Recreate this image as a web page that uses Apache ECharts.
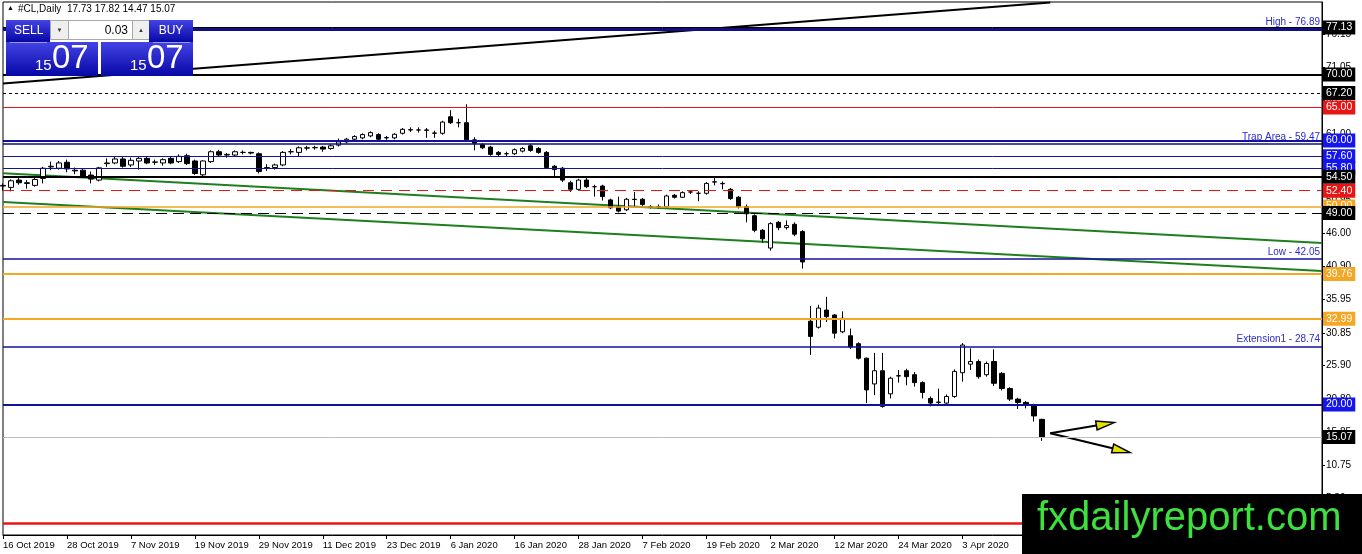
<!DOCTYPE html>
<html><head><meta charset="utf-8">
<script src="https://cdn.jsdelivr.net/npm/echarts@6/dist/echarts.min.js"></script>
<style>html,body{margin:0;padding:0;background:#fff;overflow:hidden}#c{width:1362px;height:554px}</style>
</head><body><div id="c"></div>
<script>
// ---------- DATA ----------
const dates = ['16 Oct 2019','17 Oct 2019','18 Oct 2019','21 Oct 2019','22 Oct 2019','23 Oct 2019','24 Oct 2019','25 Oct 2019',
'28 Oct 2019','29 Oct 2019','30 Oct 2019','31 Oct 2019','1 Nov 2019','4 Nov 2019','5 Nov 2019','6 Nov 2019',
'7 Nov 2019','8 Nov 2019','11 Nov 2019','12 Nov 2019','13 Nov 2019','14 Nov 2019','15 Nov 2019','18 Nov 2019',
'19 Nov 2019','20 Nov 2019','21 Nov 2019','22 Nov 2019','25 Nov 2019','26 Nov 2019','27 Nov 2019','28 Nov 2019',
'29 Nov 2019','2 Dec 2019','3 Dec 2019','4 Dec 2019','5 Dec 2019','6 Dec 2019','9 Dec 2019','10 Dec 2019',
'11 Dec 2019','12 Dec 2019','13 Dec 2019','16 Dec 2019','17 Dec 2019','18 Dec 2019','19 Dec 2019','20 Dec 2019',
'23 Dec 2019','24 Dec 2019','26 Dec 2019','27 Dec 2019','30 Dec 2019','31 Dec 2019','2 Jan 2020','3 Jan 2020',
'6 Jan 2020','7 Jan 2020','8 Jan 2020','9 Jan 2020','10 Jan 2020','13 Jan 2020','14 Jan 2020','15 Jan 2020',
'16 Jan 2020','17 Jan 2020','20 Jan 2020','21 Jan 2020','22 Jan 2020','23 Jan 2020','24 Jan 2020','27 Jan 2020',
'28 Jan 2020','29 Jan 2020','30 Jan 2020','31 Jan 2020','3 Feb 2020','4 Feb 2020','5 Feb 2020','6 Feb 2020',
'7 Feb 2020','10 Feb 2020','11 Feb 2020','12 Feb 2020','13 Feb 2020','14 Feb 2020','17 Feb 2020','18 Feb 2020',
'19 Feb 2020','20 Feb 2020','21 Feb 2020','24 Feb 2020','25 Feb 2020','26 Feb 2020','27 Feb 2020','28 Feb 2020',
'2 Mar 2020','3 Mar 2020','4 Mar 2020','5 Mar 2020','6 Mar 2020','9 Mar 2020','10 Mar 2020','11 Mar 2020',
'12 Mar 2020','13 Mar 2020','16 Mar 2020','17 Mar 2020','18 Mar 2020','19 Mar 2020','20 Mar 2020','23 Mar 2020',
'24 Mar 2020','25 Mar 2020','26 Mar 2020','27 Mar 2020','30 Mar 2020','31 Mar 2020','1 Apr 2020','2 Apr 2020',
'3 Apr 2020','6 Apr 2020','7 Apr 2020','8 Apr 2020','9 Apr 2020','13 Apr 2020','14 Apr 2020','15 Apr 2020',
'16 Apr 2020','17 Apr 2020','20 Apr 2020'];
const emptySlots = 35; // blank space right of the last bar
// [open, close, low, high]
const ohlc = [
[53.2,53.1,52.4,53.5],[52.9,53.9,52.3,54.1],[54.0,53.6,53.3,54.3],[53.6,53.5,52.7,54.0],[53.2,54.1,53.0,54.3],
[54.25,55.8,53.5,56.0],[56.0,56.1,55.5,56.8],[55.8,56.6,55.6,56.9],[56.7,55.7,55.2,57.1],[55.5,55.4,54.9,55.9],
[55.5,54.6,54.3,55.7],[54.76,54.15,53.5,55.3],[54.0,55.86,53.8,56.0],[56.5,56.6,56.0,57.3],[56.6,57.2,56.4,57.6],
[57.2,56.1,55.9,57.6],[56.3,57.0,56.0,57.4],[56.9,57.3,55.6,57.5],[57.3,56.6,56.4,57.5],[56.7,56.75,56.3,57.1],
[56.6,57.1,56.2,57.3],[57.3,56.6,56.4,57.5],[56.8,57.6,56.6,57.9],[57.7,56.5,56.3,58.0],[56.9,55.0,54.8,57.1],
[54.8,56.9,54.5,57.0],[56.8,58.3,56.6,58.5],[58.3,57.8,57.6,58.6],[57.8,57.9,57.4,58.1],[57.8,58.3,57.6,58.5],
[58.2,58.2,57.9,58.5],[58.2,58.1,57.9,58.3],[58.0,55.3,55.0,58.2],[55.8,55.9,55.4,56.4],[55.9,56.3,55.6,56.5],
[56.3,58.2,56.1,58.4],[58.3,58.3,57.9,58.7],[58.2,58.9,57.6,59.1],[58.85,58.9,58.5,59.2],[58.9,58.95,58.6,59.2],
[59.0,58.7,58.3,59.2],[58.8,59.2,58.6,59.4],[59.3,59.8,59.1,60.3],[59.8,60.2,59.6,60.4],[60.2,60.6,60.0,60.8],
[60.4,60.9,60.2,61.1],[60.7,61.2,60.5,61.4],[60.9,60.2,60.0,61.1],[60.4,60.45,60.1,60.7],[60.4,60.95,60.2,61.1],
[61.1,61.7,60.9,61.9],[61.6,61.65,61.3,62.0],[61.6,61.6,61.2,62.0],[61.6,61.55,60.4,61.9],[61.1,61.15,60.4,61.5],
[61.1,62.8,60.9,63.0],[63.6,62.7,62.5,64.6],[62.7,62.7,62.0,63.3],[62.7,60.1,59.8,65.5],[60.1,59.6,58.5,60.5],
[59.4,58.9,58.7,59.6],[59.0,57.9,57.7,59.2],[58.2,57.9,57.6,58.4],[58.0,58.0,57.5,58.3],[58.0,58.6,57.8,58.8],
[58.4,58.8,58.2,59.0],[59.2,58.5,58.3,59.5],[58.8,58.2,58.0,59.0],[58.2,55.9,55.7,58.4],[56.1,55.6,54.5,56.3],
[55.8,54.0,53.7,56.0],[53.6,52.6,52.2,53.9],[52.6,54.0,52.4,54.2],[54.0,53.0,52.8,54.3],[53.0,53.0,51.5,53.3],
[53.1,51.5,50.9,53.3],[51.0,49.8,49.6,51.2],[49.95,49.3,49.1,51.5],[49.5,51.1,49.3,51.3],[51.1,51.05,49.95,52.2],
[51.1,50.3,50.1,51.3],[50.0,49.9,49.7,50.2],[49.95,50.0,49.7,50.3],[49.95,51.6,49.8,51.8],[51.7,51.4,51.2,51.9],
[51.4,52.1,51.3,52.3],[52.2,52.2,51.9,52.5],[52.0,52.0,50.8,52.3],[52.0,53.5,51.8,53.7],[53.7,53.75,53.2,54.3],
[53.5,53.45,52.6,53.8],[52.6,51.2,51.0,52.8],[51.4,49.95,49.7,51.6],[50.0,48.9,47.6,50.3],[48.6,46.4,46.1,48.8],
[46.4,45.1,44.5,46.6],[43.7,47.4,43.3,47.6],[47.6,46.8,46.4,47.8],[46.8,47.1,46.5,47.9],[47.3,45.8,45.5,47.6],
[46.2,41.6,40.6,46.4],[32.6,30.3,27.5,34.9],[31.7,34.6,31.5,35.1],[34.3,33.3,32.5,36.3],[33.55,30.8,30.0,33.7],
[31.0,33.05,30.8,34.1],[30.4,28.7,28.4,31.5],[29.2,27.0,26.8,29.4],[27.0,22.2,20.2,27.1],[23.1,25.1,21.4,27.8],
[25.1,19.7,19.5,27.8],[21.6,23.97,20.9,24.2],[24.3,24.35,23.3,25.2],[25.1,24.2,22.9,25.4],[24.5,23.3,22.7,24.9],
[23.3,21.8,20.9,23.5],[20.9,20.2,19.7,21.2],[20.3,20.35,20.0,22.4],[20.2,21.2,20.0,21.5],[21.2,25.0,21.0,25.3],
[24.8,29.0,23.45,29.3],[26.1,26.5,25.2,28.5],[26.5,24.2,23.9,26.8],[24.5,26.2,24.2,26.5],[26.5,23.2,22.8,28.35],
[24.7,22.4,22.1,24.9],[22.4,20.8,20.5,22.6],[20.8,20.3,19.3,21.0],[20.3,19.9,19.4,20.5],[19.9,18.25,17.4,20.1],
[17.73,15.07,14.47,17.82]];
const yTicks = [5.80,10.75,15.85,20.80,25.90,30.85,35.95,40.90,46.00,50.95,55.95,61.00,66.10,71.05,76.15];
const levelPrices = [77.13,76.89,70.00,67.20,65.00,60.00,59.47,57.60,55.80,54.50,52.40,50.00,49.00,42.05,39.76,32.99,28.74,20.00,15.07,2.00];
const levelTexts  = ['','High - 76.89','','','','','Trap Area - 59.47','','','','','','','Low - 42.05','','','Extension1 - 28.74','','',''];
const levelTags   = ['77.13','','70.00','67.20','65.00','60.00','','57.60','55.80','54.50','52.40','50.00','49.00','','39.76','32.99','','20.00','15.07','2.00'];
// trend lines: [startIndex, startPrice, endIndex, endPrice]
const trendLines = [[0,55.05,165,44.46],[0,50.67,165,40.22],[0,68.66,131,80.93]];
// arrows: [fromIndex, fromPrice, toIndex, toPrice]
const arrows = [[131.1,15.63,138.6,17.24],[131.1,15.63,140.9,12.69]];
const symbolName = '#CL,Daily';
const lastBar = '17.73 17.82 14.47 15.07';
const tradeLots = '0.03';
const priceBig = '07', priceSmall = '15';
const watermark = 'fxdailyreport.com';

// ---------- STYLES ----------
const BLK='#000000', RED='#e81515', BLU='#12129c', TAGBLU='#1515ee', ORG='#f5a623', NAVY='#10107e';
const levelStyles = [
 {c:BLK,w:1,tag:BLK},{c:NAVY,w:3},{c:BLK,w:2,tag:BLK},{c:BLK,w:1,t:[3,3],tag:BLK},{c:RED,w:1,tag:RED},
 {c:BLU,w:2,tag:TAGBLU},{c:NAVY,w:1.5},{c:BLU,w:1,tag:TAGBLU},{c:BLU,w:1,tag:TAGBLU},{c:BLK,w:2,tag:BLK},
 {c:RED,w:1,t:[11,7],tag:RED},{c:ORG,w:1.5,tag:ORG},{c:BLK,w:1,t:[11,6],tag:BLK},{c:BLU,w:1.5},{c:ORG,w:2,tag:ORG},
 {c:ORG,w:2,tag:ORG},{c:BLU,w:1.5},{c:BLU,w:2,tag:TAGBLU},{c:'#bdbdbd',w:1,tag:BLK},{c:RED,w:2.5,tag:RED}
];
const trendStyles = [{c:'#1f7f1f',w:2},{c:'#1f7f1f',w:2},{c:BLK,w:2}];
const FONT = 'Liberation Sans';

const categories = dates.concat(new Array(emptySlots).fill(''));

const markData = levelPrices.map((p,i)=>{
  const s = levelStyles[i];
  const item = {yAxis:p, lineStyle:{color:s.c,width:s.w,type:s.t||'solid',opacity:1}};
  if (levelTags[i]) {
    item.label = {show:true, position:'end', distance:1, formatter:levelTags[i], color:'#fff',
      backgroundColor:s.tag, padding:[2,3,1,3], fontSize:10.5, fontFamily:FONT, lineHeight:11};
  } else if (levelTexts[i]) {
    item.label = {show:true, position:'insideEndTop', distance:2, formatter:levelTexts[i], color:'#2a2ad0',
      fontSize:10, fontFamily:FONT};
  } else item.label = {show:false};
  return item;
});

const series = [];
series.push({type:'line', data:[], z:1, silent:true,
  markLine:{silent:true, symbol:['none','none'], animation:false, data:markData}});
trendLines.forEach((t,i)=>series.push({type:'line', z:2, silent:true, symbol:'none', animation:false,
  data:[[t[0],t[1]],[t[2],t[3]]], lineStyle:{color:trendStyles[i].c,width:trendStyles[i].w}}));
series.push({type:'candlestick', z:3, data:ohlc, barWidth:5, animation:false,
  itemStyle:{color:'#ffffff',color0:'#000000',borderColor:'#000000',borderColor0:'#000000',borderColorDoji:'#000000',borderWidth:1}});
series.push({type:'custom', z:4, silent:true, animation:false, data:arrows, encode:{x:[0,2],y:[1,3]},
  renderItem:function(params, api){
    const p0 = api.coord([api.value(0), api.value(1)]);
    const p1 = api.coord([api.value(2), api.value(3)]);
    const dx=p1[0]-p0[0], dy=p1[1]-p0[1], L=Math.hypot(dx,dy), ux=dx/L, uy=dy/L;
    const hl=18, hw=4.5;
    const bx=p1[0]-ux*hl, by=p1[1]-uy*hl;
    return {type:'group', children:[
      {type:'line', shape:{x1:p0[0],y1:p0[1],x2:bx+ux*3,y2:by+uy*3}, style:{stroke:'#000',lineWidth:2}},
      {type:'polygon', shape:{points:[[p1[0],p1[1]],[bx-uy*hw,by+ux*hw],[bx+uy*hw,by-ux*hw]]},
        style:{fill:'#e2e200',stroke:'#000',lineWidth:1.5}}
    ]};
  }});

const grad = () => new echarts.graphic.LinearGradient(0,0,0,1,[{offset:0,color:'#4444e6'},{offset:1,color:'#0707a6'}]);

const graphics = [
  {type:'text', left:7, top:5, z:100, style:{text:'▲', fontSize:7, fill:'#000', fontFamily:FONT}},
  {type:'text', left:18, top:4, z:100, style:{text:symbolName+'  '+lastBar, fontSize:10, fill:'#000', fontFamily:FONT}},
  // sell / buy panel
  {type:'rect', z:100, shape:{x:6,y:20,width:44,height:22}, style:{fill:grad()}},
  {type:'text', z:101, x:14, y:31, style:{text:'SELL', fontSize:12, fill:'#fff', fontFamily:FONT, verticalAlign:'middle'}},
  {type:'rect', z:100, shape:{x:50.5,y:20.5,width:18,height:19}, style:{fill:'#efefef', stroke:'#a8a8a8', lineWidth:1}},
  {type:'text', z:101, x:59.5, y:30, style:{text:'▼', fontSize:6, fill:'#333', align:'center', verticalAlign:'middle'}},
  {type:'rect', z:100, shape:{x:68.5,y:20.5,width:64,height:19}, style:{fill:'#fff', stroke:'#a8a8a8', lineWidth:1}},
  {type:'text', z:101, x:128, y:30.5, style:{text:tradeLots, fontSize:12, fill:'#000', align:'right', verticalAlign:'middle', fontFamily:FONT}},
  {type:'rect', z:100, shape:{x:132.5,y:20.5,width:17,height:19}, style:{fill:'#efefef', stroke:'#a8a8a8', lineWidth:1}},
  {type:'text', z:101, x:141, y:30, style:{text:'▲', fontSize:6, fill:'#333', align:'center', verticalAlign:'middle'}},
  {type:'rect', z:100, shape:{x:149,y:20,width:44,height:22}, style:{fill:grad()}},
  {type:'text', z:101, x:171, y:31, style:{text:'BUY', fontSize:12, fill:'#fff', fontFamily:FONT, align:'center', verticalAlign:'middle'}},
  {type:'rect', z:100, shape:{x:6,y:42,width:92,height:34}, style:{fill:grad()}},
  {type:'rect', z:100, shape:{x:101,y:42,width:92,height:34}, style:{fill:grad()}},
  {type:'line', z:101, shape:{x1:10,y1:42.5,x2:47,y2:42.5}, style:{stroke:'#9a9af0', lineWidth:1}},
  {type:'line', z:101, shape:{x1:153,y1:42.5,x2:190,y2:42.5}, style:{stroke:'#9a9af0', lineWidth:1}},
  {type:'text', z:101, x:35, y:66, style:{text:priceSmall, fontSize:15, fill:'#fff', fontFamily:FONT, verticalAlign:'middle'}},
  {type:'text', z:101, x:52, y:59, style:{text:priceBig, fontSize:33, fill:'#fff', fontFamily:FONT, verticalAlign:'middle'}},
  {type:'text', z:101, x:130, y:66, style:{text:priceSmall, fontSize:15, fill:'#fff', fontFamily:FONT, verticalAlign:'middle'}},
  {type:'text', z:101, x:147, y:59, style:{text:priceBig, fontSize:33, fill:'#fff', fontFamily:FONT, verticalAlign:'middle'}},
  // watermark
  {type:'rect', z:200, shape:{x:1022,y:494,width:340,height:60}, style:{fill:'#000'}},
  {type:'text', z:201, x:1037, y:519, style:{text:watermark, fontSize:40, fill:'#3ee03e', fontFamily:FONT, verticalAlign:'middle'}}
];

const chart = echarts.init(document.getElementById('c'), null, {renderer:'canvas'});
chart.setOption({
  animation:false,
  backgroundColor:'#ffffff',
  grid:{left:3, right:40, top:2, bottom:19, show:true, borderColor:'#000', borderWidth:1, backgroundColor:'transparent'},
  xAxis:{type:'category', data:categories, boundaryGap:false,
    axisLine:{show:true, lineStyle:{color:'#000', width:1}},
    axisTick:{show:true, interval:7, length:4, lineStyle:{color:'#000'}},
    axisLabel:{interval:7, align:'left', margin:5, fontSize:9.5, color:'#000', fontFamily:FONT},
    splitLine:{show:false}},
  yAxis:{type:'value', position:'right', min:0.2, max:81.0, scale:true,
    axisLine:{show:true, lineStyle:{color:'#000', width:1}},
    axisTick:{show:true, length:3, customValues:yTicks, lineStyle:{color:'#000'}},
    axisLabel:{show:true, customValues:yTicks, formatter:v=>v.toFixed(2), margin:4, fontSize:10, color:'#000', fontFamily:FONT},
    splitLine:{show:false}},
  series:series,
  graphic:graphics
});
</script>
</body></html>
